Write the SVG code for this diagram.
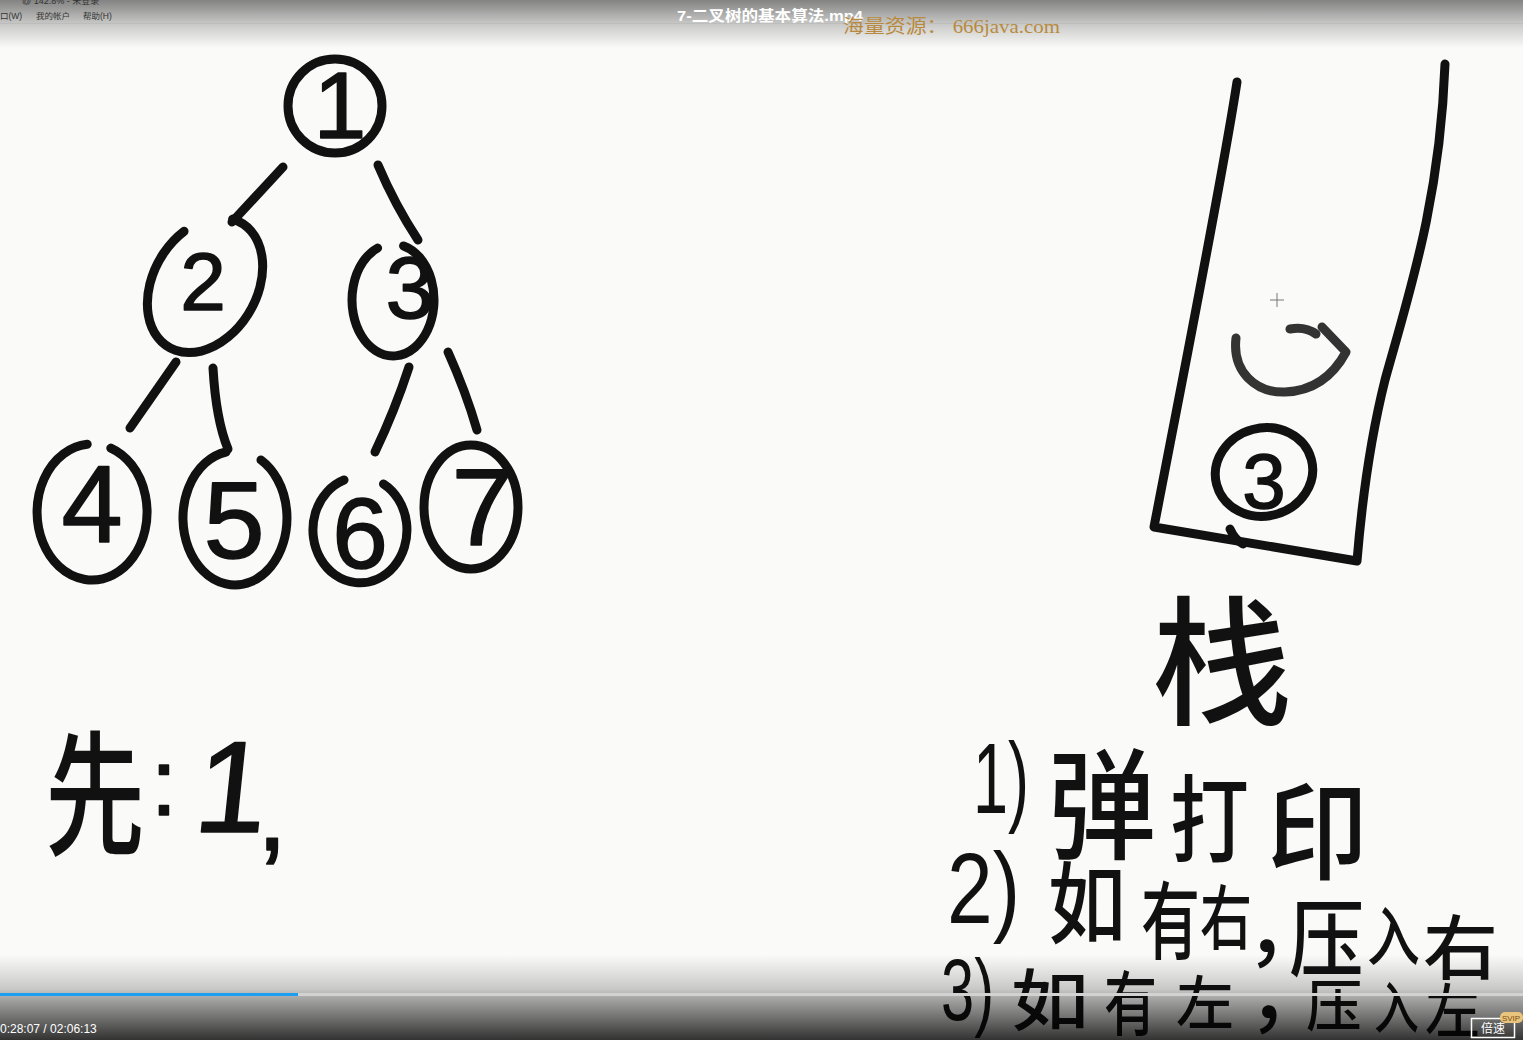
<svg xmlns="http://www.w3.org/2000/svg" width="1523" height="1040" viewBox="0 0 1523 1040">
<defs>
<style>
.ink{fill:none;stroke:#111;stroke-width:9;stroke-linecap:round;stroke-linejoin:round}
.dg{font-family:"Liberation Sans",Arial,sans-serif;font-weight:normal;fill:#111;stroke:#111;stroke-width:1.5;stroke-linejoin:round;text-anchor:middle}
.dn{font-family:"Liberation Sans",Arial,sans-serif;font-weight:normal;fill:#111;text-anchor:start}
.cj{font-family:"Noto Sans CJK SC",sans-serif;font-weight:500;fill:#111;text-anchor:middle}
.cs{font-family:"Noto Sans CJK SC",sans-serif;font-weight:500;fill:#111;text-anchor:start}
.ui{font-family:"Liberation Sans","Noto Sans CJK SC",sans-serif}
</style>
<linearGradient id="gt" x1="0" y1="0" x2="0" y2="1">
<stop offset="0" stop-color="#000" stop-opacity="0.48"/>
<stop offset="0.5" stop-color="#000" stop-opacity="0.2"/>
<stop offset="1" stop-color="#000" stop-opacity="0"/>
</linearGradient>
<linearGradient id="gb" x1="0" y1="0" x2="0" y2="1">
<stop offset="0" stop-color="#000" stop-opacity="0"/>
<stop offset="0.4" stop-color="#000" stop-opacity="0.2"/>
<stop offset="0.5" stop-color="#000" stop-opacity="0.33"/>
<stop offset="1" stop-color="#000" stop-opacity="0.8"/>
</linearGradient>
</defs>
<rect x="0" y="0" width="1523" height="1040" fill="#fafbf9"/>

<g id="connectors">
<path class="ink" d="M283 167 L232 222"/>
<path class="ink" d="M378 165 Q395 205 418 240"/>
<path class="ink" d="M176 362 L130 428"/>
<path class="ink" d="M213 368 Q216 420 228 449"/>
<path class="ink" d="M409 367 Q395 410 375 452"/>
<path class="ink" d="M448 352 Q466 392 477 430"/>
</g>

<g id="node1">
<ellipse class="ink" cx="335" cy="106" rx="47" ry="47"/>
<text class="dg" x="340" y="138" font-size="95">1</text>
</g>
<g id="node2">
<path class="ink" transform="translate(205,285) rotate(30)" d="M-9 -70.9 A52 72 0 1 1 -45 -36"/>
<text class="dg" x="203" y="310" font-size="82">2</text>
</g>
<g id="node3">
<path class="ink" d="M403.6 245.9 A41 56 0 1 1 377.6 248.1"/>
<text class="dg" x="410" y="318" font-size="88">3</text>
</g>
<g id="node4">
<path class="ink" d="M110.8 448.1 A55 68 0 1 1 87.2 444.3"/>
<text class="dg" x="92" y="542" font-size="110">4</text>
</g>
<g id="node5">
<path class="ink" d="M261 460 A52 67 0 1 1 226 452"/>
<text class="dg" x="234" y="558" font-size="110">5</text>
</g>
<g id="node6">
<path class="ink" d="M383.5 484 A47 53 0 1 1 344 480"/>
<text class="dg" x="360" y="568" font-size="100">6</text>
</g>
<g id="node7">
<ellipse class="ink" cx="471" cy="507" rx="47" ry="62"/>
<text class="dg" x="482" y="545" font-size="110">7</text>
</g>

<g id="stack">
<path class="ink" d="M1237 82 C1222 180 1190 340 1154 527 L1357 561 C1362 500 1370 440 1385 380 C1410 290 1440 200 1445 64"/>
<path class="ink" d="M1230 529 Q1235 540 1243 544" stroke-width="5"/>
</g>
<g id="stack-item-top" opacity="0.85">
<path class="ink" stroke-width="7" d="M1236 338 C1232 372 1256 393 1285 392 C1312 391 1332 378 1346 352 L1322 327"/>
<path class="ink" stroke-width="6" d="M1290 329 Q1305 326 1316 334"/>
</g>
<g id="stack-item-3">
<ellipse class="ink" cx="1264" cy="472" rx="49" ry="44" transform="rotate(-15 1264 472)"/>
<text class="dg" x="1264" y="508" font-size="78">3</text>
</g>
<g id="cursor" stroke="#777" stroke-width="1">
<line x1="1277" y1="293" x2="1277" y2="307"/>
<line x1="1270" y1="300" x2="1284" y2="300"/>
</g>

<g id="label-stack">
<text class="cj" x="1222" y="714" font-size="140">栈</text>
</g>

<g id="preorder">
<text class="cs" x="45" y="845" font-size="135" textLength="100" lengthAdjust="spacingAndGlyphs">先</text>
<text class="dg" x="164" y="815" font-size="95">:</text>
<text class="dg" x="228" y="832" font-size="130" transform="skewX(-6) translate(87 0)">1</text>
<text class="dg" x="272" y="850" font-size="110">,</text>
</g>

<g id="steps">
<text class="dn" x="973" y="813" font-size="100" textLength="56" lengthAdjust="spacingAndGlyphs">1)</text>
<text class="cs" x="1048" y="850" font-size="120" textLength="108" lengthAdjust="spacingAndGlyphs">弹</text>
<text class="cs" x="1170" y="855" font-size="95" textLength="79" lengthAdjust="spacingAndGlyphs">打</text>
<text class="cs" x="1267" y="871" font-size="107" textLength="101" lengthAdjust="spacingAndGlyphs">印</text>

<text class="dn" x="947" y="923" font-size="100" textLength="73" lengthAdjust="spacingAndGlyphs">2)</text>
<text class="cs" x="1048" y="936" font-size="89" textLength="78" lengthAdjust="spacingAndGlyphs">如</text>
<text class="cs" x="1141" y="953" font-size="85" textLength="59" lengthAdjust="spacingAndGlyphs">有</text>
<text class="cs" x="1200" y="944" font-size="70" textLength="52" lengthAdjust="spacingAndGlyphs">右</text>
<text class="cs" x="1246" y="958" font-size="80" font-weight="400">，</text>
<text class="cs" x="1289" y="970" font-size="85" textLength="75" lengthAdjust="spacingAndGlyphs">压</text>
<text class="cs" x="1367" y="960" font-size="64" textLength="53" lengthAdjust="spacingAndGlyphs">入</text>
<text class="cs" x="1423" y="974" font-size="70" textLength="75" lengthAdjust="spacingAndGlyphs">右</text>

<text class="dn" x="941" y="1020" font-size="88" textLength="53" lengthAdjust="spacingAndGlyphs">3)</text>
<text class="cs" x="1011" y="1025" font-size="67" textLength="78" lengthAdjust="spacingAndGlyphs">如</text>
<text class="cs" x="1104" y="1030" font-size="70" textLength="53" lengthAdjust="spacingAndGlyphs">有</text>
<text class="cs" x="1176" y="1024" font-size="58" textLength="58" lengthAdjust="spacingAndGlyphs">左</text>
<text class="cs" x="1248" y="1024" font-size="80" font-weight="400">，</text>
<text class="cs" x="1306" y="1026" font-size="56" textLength="56" lengthAdjust="spacingAndGlyphs">压</text>
<text class="cs" x="1374" y="1028" font-size="56" textLength="45" lengthAdjust="spacingAndGlyphs">入</text>
<text class="cs" x="1425" y="1032" font-size="58" textLength="55" lengthAdjust="spacingAndGlyphs">左</text>
</g>

<g id="top-bar">
<rect x="0" y="0" width="1523" height="48" fill="url(#gt)"/>
<line x1="0" y1="23.5" x2="1523" y2="23.5" stroke="#bdbdbd" stroke-width="1"/>
<text class="ui" x="22" y="4" font-size="9" fill="#333">@ 142.8% - 未登录</text>
<text class="ui" x="0" y="19" font-size="8.5" fill="#333">口(W)</text>
<text class="ui" x="36" y="19" font-size="8.5" fill="#333">我的帐户</text>
<text class="ui" x="83" y="19" font-size="8.5" fill="#333">帮助(H)</text>
<text class="ui" x="677" y="21" font-size="15" font-weight="bold" fill="#fff" textLength="186" lengthAdjust="spacingAndGlyphs">7-二叉树的基本算法.mp4</text>
<text x="843" y="33" font-size="19" fill="#b98a3e" font-family="'Liberation Serif','Noto Sans CJK SC',serif" textLength="217" lengthAdjust="spacingAndGlyphs">海量资源： 666java.com</text>
</g>

<g id="bottom-bar">
<rect x="0" y="955" width="1523" height="85" fill="url(#gb)"/>
<rect x="0" y="993" width="1523" height="3" fill="#d2d2d2"/>
<rect x="0" y="993" width="298" height="3" fill="#1c9ff0"/>
<text class="ui" x="0" y="1033" font-size="12" fill="#fff">0:28:07 / 02:06:13</text>
<rect x="1471.5" y="1018.5" width="43" height="19" fill="none" stroke="#fff" stroke-width="1.5"/>
<text class="ui" x="1493" y="1033" font-size="12" fill="#fff" text-anchor="middle">倍速</text>
<rect x="1500" y="1012" width="23" height="11" rx="5" fill="#e8c47c"/>
<text class="ui" x="1511" y="1021" font-size="8" fill="#7a4e14" text-anchor="middle">SVIP</text>
</g>
</svg>
